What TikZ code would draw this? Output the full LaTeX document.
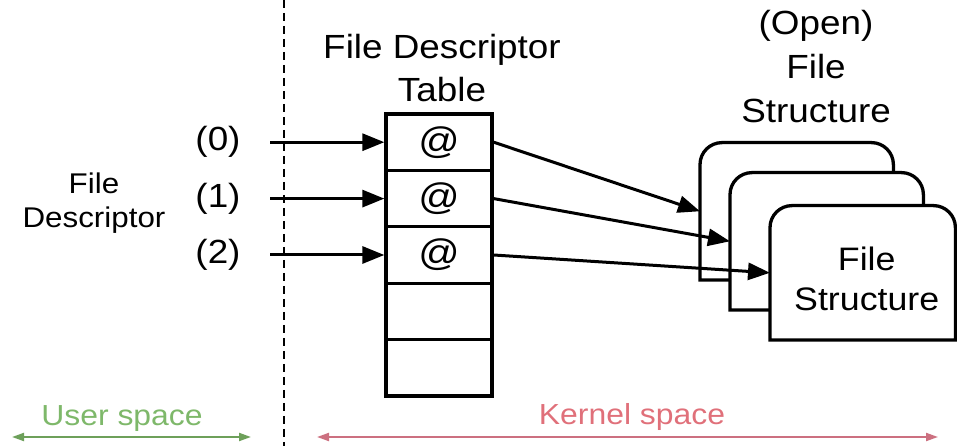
\documentclass[tikz,border=0pt]{standalone}
\usepackage{fontspec}
\setmainfont[FakeStretch=1.1]{Liberation Sans}
\usetikzlibrary{arrows.meta}
\pgfdeclarelayer{background}
\pgfsetlayers{background,main}
\definecolor{usertext}{HTML}{7EB86A}
\definecolor{userline}{HTML}{6DA05A}
\definecolor{kerntext}{HTML}{E0707A}
\definecolor{kernline}{HTML}{CC7080}
\begin{document}
\begin{tikzpicture}[x=1pt,y=1pt,
  biglbl/.style={inner sep=0, align=center, font=\fontsize{33.5}{43}\selectfont},
  midlbl/.style={inner sep=0, align=center, font=\fontsize{28.5}{34}\selectfont},
  spacelbl/.style={inner sep=0, font=\fontsize{29}{34}\selectfont},
  cell/.style={draw, line width=3.3pt, minimum width=106pt, minimum height=56.4pt, inner sep=0, font=\fontsize{37}{40}\selectfont},
  fsnode/.style={inner sep=0, anchor=south west},
  fslbl/.style={inner sep=0, align=center, font=\fontsize{32.5}{40}\selectfont},
  fsline/.style={draw=black, line width=3.3pt, fill=white},
  ptr/.style={line width=3pt, -{Triangle[length=22pt,width=17pt]}},
  spanarrow/.style={line width=2pt, {Triangle[length=12pt,width=8pt]}-{Triangle[length=12pt,width=8pt]}}
]
\useasboundingbox (0,0) rectangle (957,446);

% dashed separator
\coordinate (sepTop) at (284,446);
\coordinate (sepBot) at (284,0);
\draw[line width=1.5pt, dash pattern=on 8pt off 5pt] (sepTop) -- (sepBot);

% labels
\node[biglbl, anchor=base] (fdtlbl) at (442,344) {File Descriptor\\Table};
\node[biglbl, anchor=base, font=\fontsize{33.5}{44}\selectfont] (openlbl) at (816,323) {(Open)\\File\\Structure};
\node[midlbl, anchor=base] (fdlbl) at (94,218) {File\\Descriptor};
\node[biglbl] (n0) at (218,303.8) {(0)};
\node[biglbl] (n1) at (218,247.4) {(1)};
\node[biglbl] (n2) at (218,191.0) {(2)};

% table
\node[cell] (c0) at (439,303.8) {@};
\node[cell] (c1) at (439,247.4) {@};
\node[cell] (c2) at (439,191.0) {@};
\node[cell] (c3) at (439,134.6) {};
\node[cell] (c4) at (439,78.2) {};

% file structures
\node[fsnode, minimum width=193pt, minimum height=137pt] (fs1) at (700,166) {};
\node[fsnode, minimum width=193pt, minimum height=137pt] (fs2) at (730,136) {};
\node[fsnode, minimum width=185pt, minimum height=134pt] (fs3) at (770,106) {};
\begin{pgfonlayer}{background}
\foreach \b in {fs1,fs2,fs3}
  \draw[fsline] (\b.south west) -- ([yshift=-22pt]\b.north west)
    arc[start angle=180,end angle=90,radius=22pt]
    -- ([xshift=-22pt]\b.north east)
    arc[start angle=90,end angle=0,radius=22pt]
    -- (\b.south east) -- cycle;
\end{pgfonlayer}
\node[fslbl] (fs3lbl) at ([xshift=4pt,yshift=-6pt]fs3.center) {File\\Structure};

% arrows into table
\coordinate (s0) at (270,303.8);
\coordinate (s1) at (270,247.4);
\coordinate (s2) at (270,191.0);
\draw[ptr] (s0) -- (c0.west);
\draw[ptr] (s1) -- (c1.west);
\draw[ptr] (s2) -- (c2.west);

% arrows to file structures
\draw[ptr] (c0.east) -- (fs1.west);
\draw[ptr] (c1.east) -- (fs2.west);
\draw[ptr] (c2.east) -- (fs3.west);

% user / kernel space
\coordinate (uL) at (12,9);
\coordinate (uR) at (251,9);
\coordinate (kL) at (317,9);
\coordinate (kR) at (938,9);
\draw[spanarrow, userline] (uL) -- (uR);
\draw[spanarrow, kernline] (kL) -- (kR);
\node[spacelbl, anchor=base, text=usertext] (ulbl) at (122,20) {User space};
\node[spacelbl, anchor=base, text=kerntext] (klbl) at (632,21) {Kernel space};
\end{tikzpicture}
\end{document}
